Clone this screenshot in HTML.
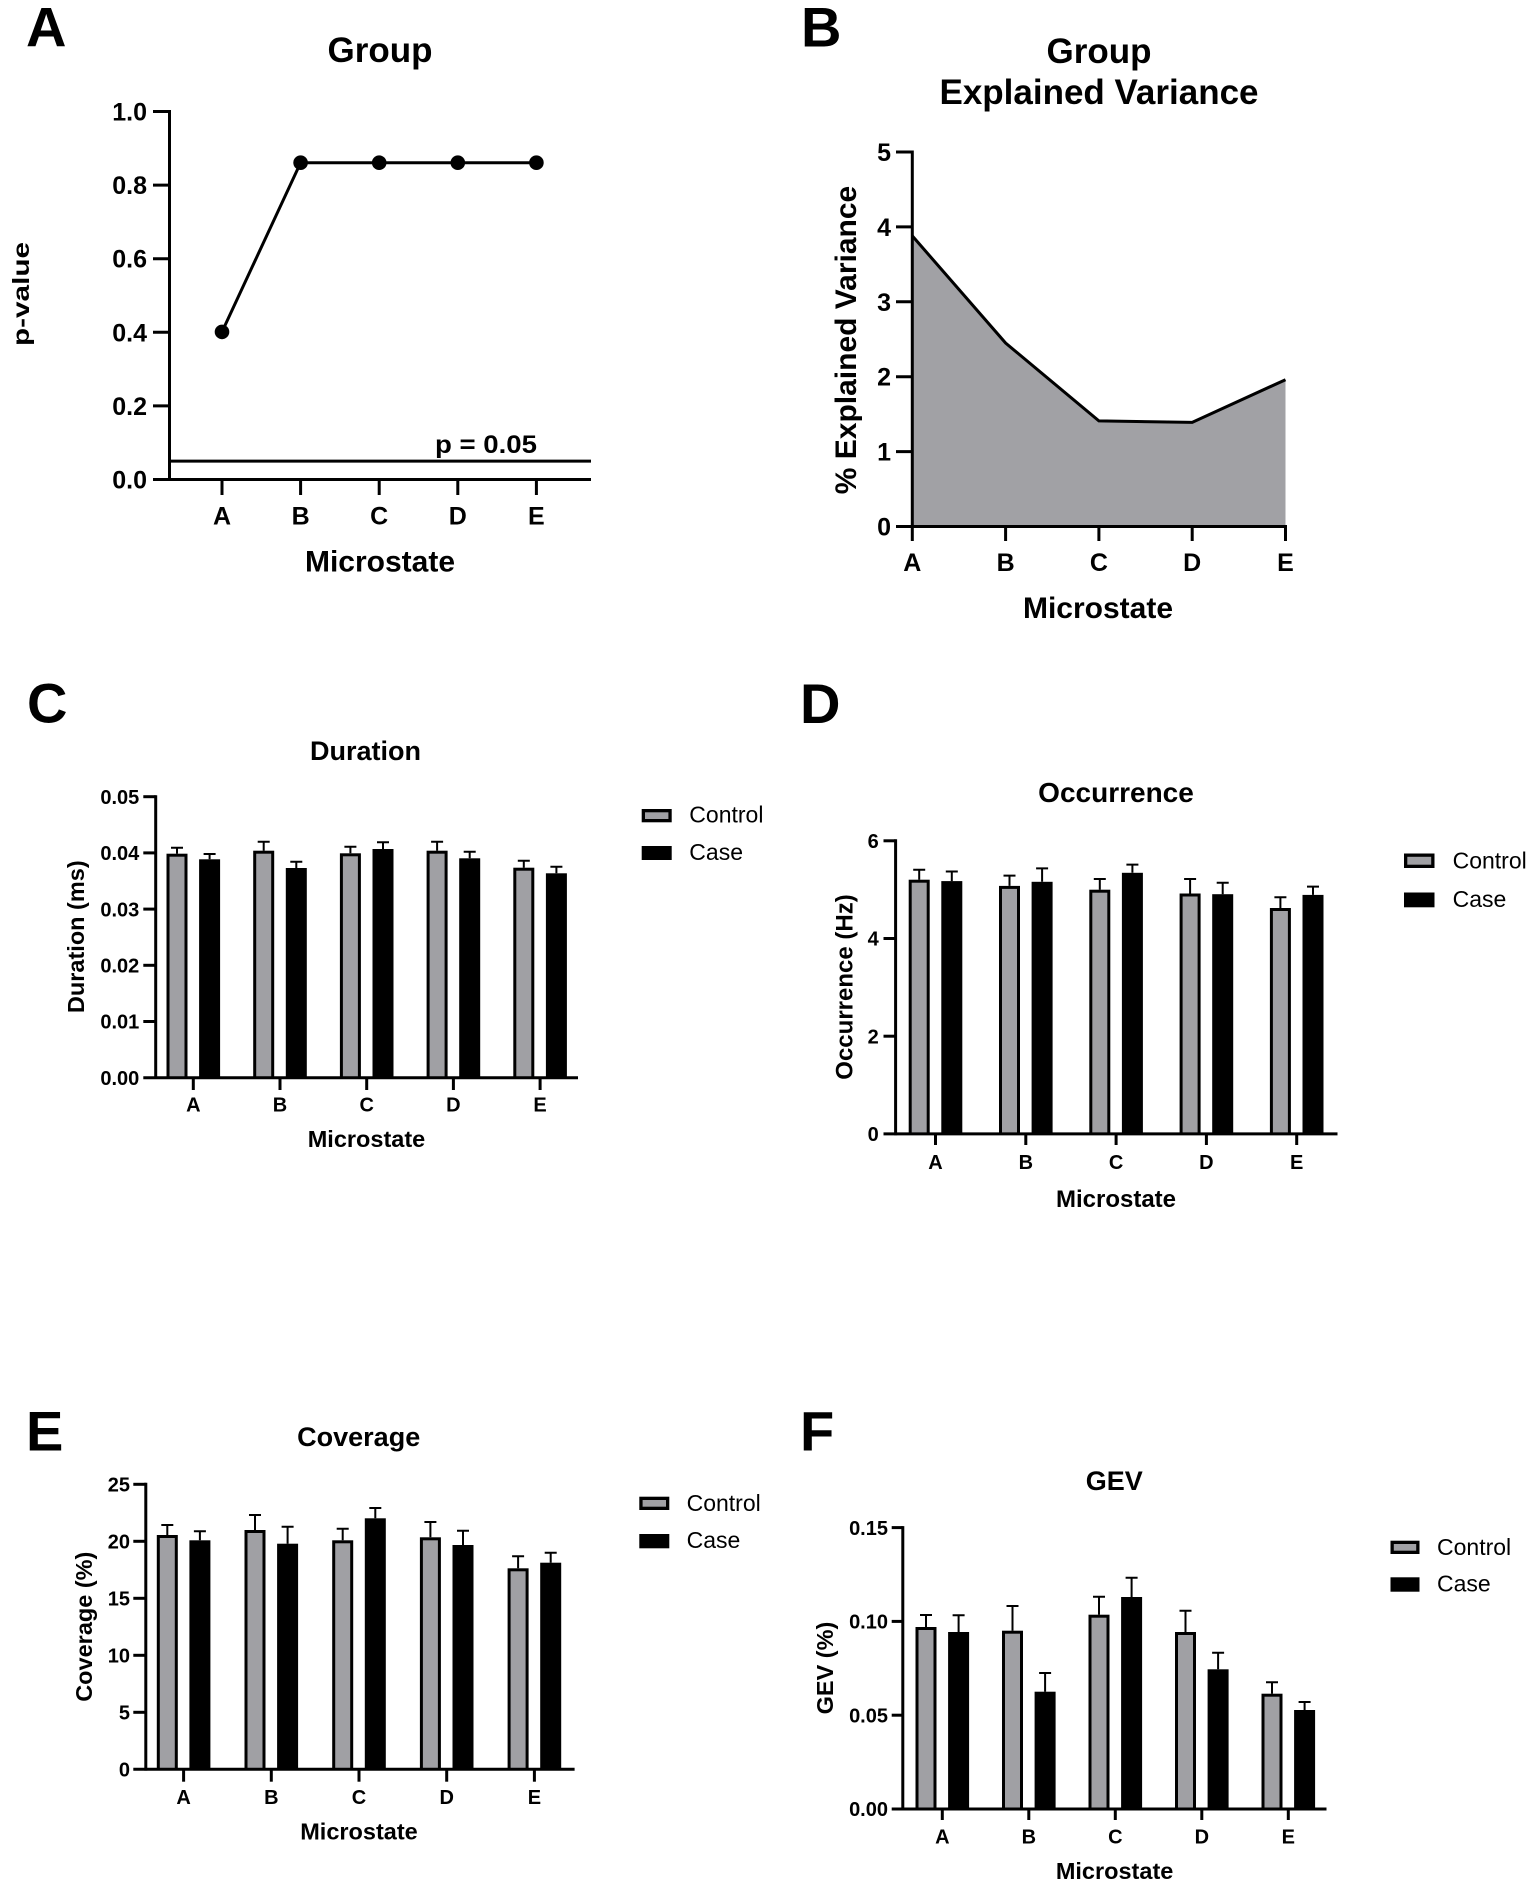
<!DOCTYPE html>
<html><head><meta charset="utf-8"><style>
html,body{margin:0;padding:0;background:#fff;}
svg{display:block;}
text{font-family:"Liberation Sans",Arial,sans-serif;fill:#000;}
.b{font-weight:bold;}
.L{font-size:56px;font-weight:bold;}
.t1{font-size:35px;font-weight:bold;}
.k1{font-size:25px;font-weight:bold;}
.a1{font-size:30px;font-weight:bold;}
.t2{font-size:27px;font-weight:bold;}
.k2{font-size:20px;font-weight:bold;}
.a2{font-size:23.5px;font-weight:bold;}
.lg{font-size:23px;}
</style></head><body>
<svg width="1535" height="1884" viewBox="0 0 1535 1884" xmlns="http://www.w3.org/2000/svg">
<rect width="1535" height="1884" fill="#fff"/>

<!-- ========== Panel A ========== -->
<text class="L" x="26" y="46.5">A</text>
<text class="t1" x="380" y="62" text-anchor="middle">Group</text>
<g stroke="#000" stroke-width="3" fill="none">
<line x1="169.5" y1="110" x2="169.5" y2="481"/>
<line x1="153" y1="479.5" x2="591" y2="479.5"/>
<line x1="153" y1="111.5" x2="169.5" y2="111.5"/>
<line x1="153" y1="185.1" x2="169.5" y2="185.1"/>
<line x1="153" y1="258.7" x2="169.5" y2="258.7"/>
<line x1="153" y1="332.3" x2="169.5" y2="332.3"/>
<line x1="153" y1="405.9" x2="169.5" y2="405.9"/>
<line x1="222" y1="479.5" x2="222" y2="495"/>
<line x1="300.6" y1="479.5" x2="300.6" y2="495"/>
<line x1="379.2" y1="479.5" x2="379.2" y2="495"/>
<line x1="457.8" y1="479.5" x2="457.8" y2="495"/>
<line x1="536.4" y1="479.5" x2="536.4" y2="495"/>
<line x1="169.5" y1="461.1" x2="591" y2="461.1"/>
<polyline points="222,331.9 300.6,162.7 379.2,162.7 457.8,162.7 536.4,162.7"/>
</g>
<g fill="#000">
<circle cx="222" cy="331.9" r="7.3"/>
<circle cx="300.6" cy="162.7" r="7.3"/>
<circle cx="379.2" cy="162.7" r="7.3"/>
<circle cx="457.8" cy="162.7" r="7.3"/>
<circle cx="536.4" cy="162.7" r="7.3"/>
</g>
<text class="k1" x="147" y="120.5" text-anchor="end">1.0</text>
<text class="k1" x="147" y="194.1" text-anchor="end">0.8</text>
<text class="k1" x="147" y="267.7" text-anchor="end">0.6</text>
<text class="k1" x="147" y="341.3" text-anchor="end">0.4</text>
<text class="k1" x="147" y="414.9" text-anchor="end">0.2</text>
<text class="k1" x="147" y="488.5" text-anchor="end">0.0</text>
<text class="k1" x="222" y="524.5" text-anchor="middle">A</text>
<text class="k1" x="300.6" y="524.5" text-anchor="middle">B</text>
<text class="k1" x="379.2" y="524.5" text-anchor="middle">C</text>
<text class="k1" x="457.8" y="524.5" text-anchor="middle">D</text>
<text class="k1" x="536.4" y="524.5" text-anchor="middle">E</text>
<text class="k1" x="537" y="453" text-anchor="end" textLength="102" lengthAdjust="spacingAndGlyphs">p = 0.05</text>
<text class="a1" x="380" y="571.5" text-anchor="middle">Microstate</text>
<text class="b" style="font-size:23px" x="29" y="294" text-anchor="middle" transform="rotate(-90 29 294)" textLength="104" lengthAdjust="spacingAndGlyphs">p-value</text>

<!-- ========== Panel B ========== -->
<text class="L" x="801" y="46.5">B</text>
<text class="t1" x="1099" y="63" text-anchor="middle">Group</text>
<text class="t1" x="1099" y="104" text-anchor="middle">Explained Variance</text>
<path d="M912.3,526.5 L912.3,235.9 L1005.6,343 L1098.9,420.9 L1192.2,422.4 L1285.5,379.7 L1285.5,526.5 Z" fill="#a1a1a5"/>
<g stroke="#000" stroke-width="3" fill="none">
<polyline points="912.3,235.9 1005.6,343 1098.9,420.9 1192.2,422.4 1285.5,379.7"/>
<line x1="912.3" y1="150.5" x2="912.3" y2="528"/>
<line x1="896" y1="526.5" x2="1287" y2="526.5"/>
<line x1="896" y1="152" x2="912.3" y2="152"/>
<line x1="896" y1="226.9" x2="912.3" y2="226.9"/>
<line x1="896" y1="301.8" x2="912.3" y2="301.8"/>
<line x1="896" y1="376.7" x2="912.3" y2="376.7"/>
<line x1="896" y1="451.6" x2="912.3" y2="451.6"/>
<line x1="912.3" y1="526.5" x2="912.3" y2="541"/>
<line x1="1005.6" y1="526.5" x2="1005.6" y2="541"/>
<line x1="1098.9" y1="526.5" x2="1098.9" y2="541"/>
<line x1="1192.2" y1="526.5" x2="1192.2" y2="541"/>
<line x1="1285.5" y1="526.5" x2="1285.5" y2="541"/>
</g>
<text class="k1" x="891" y="161" text-anchor="end">5</text>
<text class="k1" x="891" y="235.9" text-anchor="end">4</text>
<text class="k1" x="891" y="310.8" text-anchor="end">3</text>
<text class="k1" x="891" y="385.7" text-anchor="end">2</text>
<text class="k1" x="891" y="460.6" text-anchor="end">1</text>
<text class="k1" x="891" y="535.5" text-anchor="end">0</text>
<text class="k1" x="912.3" y="571" text-anchor="middle">A</text>
<text class="k1" x="1005.6" y="571" text-anchor="middle">B</text>
<text class="k1" x="1098.9" y="571" text-anchor="middle">C</text>
<text class="k1" x="1192.2" y="571" text-anchor="middle">D</text>
<text class="k1" x="1285.5" y="571" text-anchor="middle">E</text>
<text class="a1" x="1098" y="618" text-anchor="middle">Microstate</text>
<text class="a1" x="856" y="340" text-anchor="middle" transform="rotate(-90 856 340)">% Explained Variance</text>

<!-- ========== Panel C ========== -->
<text class="L" x="27" y="722.5">C</text>
<text class="t2" x="365.5" y="760" text-anchor="middle">Duration</text>
<g fill="#000">
<rect x="166.5" y="853.7" width="21" height="224"/>
<rect x="199.1" y="859.3" width="21" height="218.4"/>
<rect x="253.2" y="850.7" width="21" height="227"/>
<rect x="285.8" y="868" width="21" height="209.7"/>
<rect x="339.9" y="853.3" width="21" height="224.4"/>
<rect x="372.5" y="849" width="21" height="228.7"/>
<rect x="426.6" y="850.7" width="21" height="227"/>
<rect x="459.2" y="858.3" width="21" height="219.4"/>
<rect x="513.3" y="867.7" width="21" height="210"/>
<rect x="545.9" y="873.3" width="21" height="204.4"/>
</g>
<g fill="#a0a0a4">
<rect x="169.5" y="856.7" width="15" height="221"/>
<rect x="256.2" y="853.7" width="15" height="224"/>
<rect x="342.9" y="856.3" width="15" height="221.4"/>
<rect x="429.6" y="853.7" width="15" height="224"/>
<rect x="516.3" y="870.7" width="15" height="207"/>
</g>
<g stroke="#000" stroke-width="2">
<path d="M177,853.7V847.7M171,847.7H183"/>
<path d="M209.6,859.3V854M203.6,854H215.6"/>
<path d="M263.7,850.7V841.7M257.7,841.7H269.7"/>
<path d="M296.3,868V861.7M290.3,861.7H302.3"/>
<path d="M350.4,853.3V846.7M344.4,846.7H356.4"/>
<path d="M383,849V842.3M377,842.3H389"/>
<path d="M437.1,850.7V841.7M431.1,841.7H443.1"/>
<path d="M469.7,858.3V851.7M463.7,851.7H475.7"/>
<path d="M523.8,867.7V860.7M517.8,860.7H529.8"/>
<path d="M556.4,873.3V866.7M550.4,866.7H562.4"/>
</g>
<g stroke="#000" stroke-width="3" fill="none">
<line x1="155.7" y1="795.2" x2="155.7" y2="1079"/>
<line x1="143.3" y1="1077.7" x2="578" y2="1077.7"/>
<line x1="143.3" y1="796.7" x2="155.7" y2="796.7"/>
<line x1="143.3" y1="852.9" x2="155.7" y2="852.9"/>
<line x1="143.3" y1="909.1" x2="155.7" y2="909.1"/>
<line x1="143.3" y1="965.3" x2="155.7" y2="965.3"/>
<line x1="143.3" y1="1021.5" x2="155.7" y2="1021.5"/>
<line x1="193.3" y1="1077.7" x2="193.3" y2="1090"/>
<line x1="280" y1="1077.7" x2="280" y2="1090"/>
<line x1="366.7" y1="1077.7" x2="366.7" y2="1090"/>
<line x1="453.4" y1="1077.7" x2="453.4" y2="1090"/>
<line x1="540.1" y1="1077.7" x2="540.1" y2="1090"/>
</g>
<text class="k2" x="139.3" y="803.9" text-anchor="end">0.05</text>
<text class="k2" x="139.3" y="860.1" text-anchor="end">0.04</text>
<text class="k2" x="139.3" y="916.3" text-anchor="end">0.03</text>
<text class="k2" x="139.3" y="972.5" text-anchor="end">0.02</text>
<text class="k2" x="139.3" y="1028.7" text-anchor="end">0.01</text>
<text class="k2" x="139.3" y="1084.9" text-anchor="end">0.00</text>
<text class="k2" x="193.3" y="1111.7" text-anchor="middle">A</text>
<text class="k2" x="280" y="1111.7" text-anchor="middle">B</text>
<text class="k2" x="366.7" y="1111.7" text-anchor="middle">C</text>
<text class="k2" x="453.4" y="1111.7" text-anchor="middle">D</text>
<text class="k2" x="540.1" y="1111.7" text-anchor="middle">E</text>
<text class="a2" x="366.5" y="1147" text-anchor="middle">Microstate</text>
<text class="a2" x="84" y="936.7" text-anchor="middle" transform="rotate(-90 84 936.7)">Duration (ms)</text>
<rect x="641.7" y="809" width="30" height="13.3" fill="#000"/>
<rect x="645" y="812.3" width="23.4" height="6.7" fill="#a0a0a4"/>
<rect x="641.7" y="846" width="30" height="14" fill="#000"/>
<text class="lg" x="689.3" y="822.7">Control</text>
<text class="lg" x="689.3" y="860">Case</text>

<!-- ========== Panel D ========== -->
<text class="L" x="800" y="723">D</text>
<text class="t2" style="font-size:28px" x="1116" y="802" text-anchor="middle">Occurrence</text>
<g fill="#000">
<rect x="908.7" y="879.7" width="21" height="254.2"/>
<rect x="941.3" y="881.1" width="21" height="252.8"/>
<rect x="999" y="885.9" width="21" height="248"/>
<rect x="1031.6" y="881.8" width="21" height="252.1"/>
<rect x="1089.3" y="889.7" width="21" height="244.2"/>
<rect x="1121.9" y="872.8" width="21" height="261.1"/>
<rect x="1179.6" y="893.5" width="21" height="240.4"/>
<rect x="1212.2" y="894.2" width="21" height="239.7"/>
<rect x="1269.9" y="908" width="21" height="225.9"/>
<rect x="1302.5" y="894.9" width="21" height="239"/>
</g>
<g fill="#a0a0a4">
<rect x="911.7" y="882.7" width="15" height="251.2"/>
<rect x="1002" y="888.9" width="15" height="245"/>
<rect x="1092.3" y="892.7" width="15" height="241.2"/>
<rect x="1182.6" y="896.5" width="15" height="237.4"/>
<rect x="1272.9" y="911" width="15" height="222.9"/>
</g>
<g stroke="#000" stroke-width="2">
<path d="M919.2,879.7V869.7M913.2,869.7H925.2"/>
<path d="M951.8,881.1V871.5M945.8,871.5H957.8"/>
<path d="M1009.5,885.9V875.6M1003.5,875.6H1015.5"/>
<path d="M1042.1,881.8V868.4M1036.1,868.4H1048.1"/>
<path d="M1099.8,889.7V879M1093.8,879H1105.8"/>
<path d="M1132.4,872.8V864.6M1126.4,864.6H1138.4"/>
<path d="M1190.1,893.5V879M1184.1,879H1196.1"/>
<path d="M1222.7,894.2V882.8M1216.7,882.8H1228.7"/>
<path d="M1280.4,908V897.3M1274.4,897.3H1286.4"/>
<path d="M1313,894.9V886.6M1307,886.6H1319"/>
</g>
<g stroke="#000" stroke-width="3" fill="none">
<line x1="895.6" y1="839.3" x2="895.6" y2="1135.2"/>
<line x1="883.5" y1="1133.9" x2="1337.5" y2="1133.9"/>
<line x1="883.5" y1="840.8" x2="895.6" y2="840.8"/>
<line x1="883.5" y1="938.5" x2="895.6" y2="938.5"/>
<line x1="883.5" y1="1036.2" x2="895.6" y2="1036.2"/>
<line x1="935.5" y1="1133.9" x2="935.5" y2="1145"/>
<line x1="1025.8" y1="1133.9" x2="1025.8" y2="1145"/>
<line x1="1116.1" y1="1133.9" x2="1116.1" y2="1145"/>
<line x1="1206.4" y1="1133.9" x2="1206.4" y2="1145"/>
<line x1="1296.7" y1="1133.9" x2="1296.7" y2="1145"/>
</g>
<text class="k2" x="878.7" y="848" text-anchor="end">6</text>
<text class="k2" x="878.7" y="945.7" text-anchor="end">4</text>
<text class="k2" x="878.7" y="1043.4" text-anchor="end">2</text>
<text class="k2" x="878.7" y="1141.1" text-anchor="end">0</text>
<text class="k2" x="935.5" y="1169" text-anchor="middle">A</text>
<text class="k2" x="1025.8" y="1169" text-anchor="middle">B</text>
<text class="k2" x="1116.1" y="1169" text-anchor="middle">C</text>
<text class="k2" x="1206.4" y="1169" text-anchor="middle">D</text>
<text class="k2" x="1296.7" y="1169" text-anchor="middle">E</text>
<text class="a2" style="font-size:24px" x="1116" y="1207" text-anchor="middle">Microstate</text>
<text class="a2" style="font-size:24px" x="852.5" y="987" text-anchor="middle" transform="rotate(-90 852.5 987)">Occurrence (Hz)</text>
<rect x="1404" y="853.5" width="30.5" height="14.5" fill="#000"/>
<rect x="1407.3" y="856.8" width="23.9" height="7.9" fill="#a0a0a4"/>
<rect x="1404" y="892.5" width="30.5" height="14.8" fill="#000"/>
<text class="lg" x="1452.6" y="868.7">Control</text>
<text class="lg" x="1452.6" y="907">Case</text>

<!-- ========== Panel E ========== -->
<text class="L" x="26" y="1450.5">E</text>
<text class="t2" x="358.7" y="1446" text-anchor="middle">Coverage</text>
<g fill="#000">
<rect x="156.8" y="1535" width="21" height="234.3"/>
<rect x="189.4" y="1540.3" width="21" height="229"/>
<rect x="244.5" y="1530" width="21" height="239.3"/>
<rect x="277.1" y="1543.7" width="21" height="225.6"/>
<rect x="332.2" y="1540.3" width="21" height="229"/>
<rect x="364.8" y="1518.3" width="21" height="251"/>
<rect x="419.9" y="1537.3" width="21" height="232"/>
<rect x="452.5" y="1545" width="21" height="224.3"/>
<rect x="507.6" y="1568.3" width="21" height="201"/>
<rect x="540.2" y="1562.7" width="21" height="206.6"/>
</g>
<g fill="#a0a0a4">
<rect x="159.8" y="1538" width="15" height="231.3"/>
<rect x="247.5" y="1533" width="15" height="236.3"/>
<rect x="335.2" y="1543.3" width="15" height="226"/>
<rect x="422.9" y="1540.3" width="15" height="229"/>
<rect x="510.6" y="1571.3" width="15" height="198"/>
</g>
<g stroke="#000" stroke-width="2">
<path d="M167.3,1535V1525M161.3,1525H173.3"/>
<path d="M199.9,1540.3V1531.3M193.9,1531.3H205.9"/>
<path d="M255,1530V1515M249,1515H261"/>
<path d="M287.6,1543.7V1526.7M281.6,1526.7H293.6"/>
<path d="M342.7,1540.3V1528.7M336.7,1528.7H348.7"/>
<path d="M375.3,1518.3V1508M369.3,1508H381.3"/>
<path d="M430.4,1537.3V1522M424.4,1522H436.4"/>
<path d="M463,1545V1530.7M457,1530.7H469"/>
<path d="M518.1,1568.3V1556.3M512.1,1556.3H524.1"/>
<path d="M550.7,1562.7V1552.7M544.7,1552.7H556.7"/>
</g>
<g stroke="#000" stroke-width="3" fill="none">
<line x1="145.8" y1="1482.8" x2="145.8" y2="1770.6"/>
<line x1="133.3" y1="1769.3" x2="574.6" y2="1769.3"/>
<line x1="133.3" y1="1484.3" x2="145.8" y2="1484.3"/>
<line x1="133.3" y1="1541.3" x2="145.8" y2="1541.3"/>
<line x1="133.3" y1="1598.3" x2="145.8" y2="1598.3"/>
<line x1="133.3" y1="1655.3" x2="145.8" y2="1655.3"/>
<line x1="133.3" y1="1712.3" x2="145.8" y2="1712.3"/>
<line x1="183.6" y1="1769.3" x2="183.6" y2="1781.7"/>
<line x1="271.3" y1="1769.3" x2="271.3" y2="1781.7"/>
<line x1="359" y1="1769.3" x2="359" y2="1781.7"/>
<line x1="446.7" y1="1769.3" x2="446.7" y2="1781.7"/>
<line x1="534.4" y1="1769.3" x2="534.4" y2="1781.7"/>
</g>
<text class="k2" x="130" y="1491.5" text-anchor="end">25</text>
<text class="k2" x="130" y="1548.5" text-anchor="end">20</text>
<text class="k2" x="130" y="1605.5" text-anchor="end">15</text>
<text class="k2" x="130" y="1662.5" text-anchor="end">10</text>
<text class="k2" x="130" y="1719.5" text-anchor="end">5</text>
<text class="k2" x="130" y="1776.5" text-anchor="end">0</text>
<text class="k2" x="183.6" y="1804" text-anchor="middle">A</text>
<text class="k2" x="271.3" y="1804" text-anchor="middle">B</text>
<text class="k2" x="359" y="1804" text-anchor="middle">C</text>
<text class="k2" x="446.7" y="1804" text-anchor="middle">D</text>
<text class="k2" x="534.4" y="1804" text-anchor="middle">E</text>
<text class="a2" x="359" y="1839.3" text-anchor="middle">Microstate</text>
<text class="a2" x="91.8" y="1626.7" text-anchor="middle" transform="rotate(-90 91.8 1626.7)">Coverage (%)</text>
<rect x="639.3" y="1496.7" width="30" height="13.3" fill="#000"/>
<rect x="642.6" y="1500" width="23.4" height="6.7" fill="#a0a0a4"/>
<rect x="639.3" y="1534" width="30" height="14.3" fill="#000"/>
<text class="lg" x="686.6" y="1511">Control</text>
<text class="lg" x="686.6" y="1548">Case</text>

<!-- ========== Panel F ========== -->
<text class="L" x="800" y="1450.5">F</text>
<text class="t2" x="1114.3" y="1490" text-anchor="middle">GEV</text>
<g fill="#000">
<rect x="915.5" y="1627" width="21" height="182"/>
<rect x="948.1" y="1632" width="21" height="177"/>
<rect x="1002" y="1630.7" width="21" height="178.3"/>
<rect x="1034.6" y="1691.7" width="21" height="117.3"/>
<rect x="1088.5" y="1614.7" width="21" height="194.3"/>
<rect x="1121.1" y="1597" width="21" height="212"/>
<rect x="1175" y="1632" width="21" height="177"/>
<rect x="1207.6" y="1669.3" width="21" height="139.7"/>
<rect x="1261.5" y="1693.7" width="21" height="115.3"/>
<rect x="1294.1" y="1710" width="21" height="99"/>
</g>
<g fill="#a0a0a4">
<rect x="918.5" y="1630" width="15" height="179"/>
<rect x="1005" y="1633.7" width="15" height="175.3"/>
<rect x="1091.5" y="1617.7" width="15" height="191.3"/>
<rect x="1178" y="1635" width="15" height="174"/>
<rect x="1264.5" y="1696.7" width="15" height="112.3"/>
</g>
<g stroke="#000" stroke-width="2">
<path d="M926,1627V1615M920,1615H932"/>
<path d="M958.6,1632V1615.3M952.6,1615.3H964.6"/>
<path d="M1012.5,1630.7V1606M1006.5,1606H1018.5"/>
<path d="M1045.1,1691.7V1673M1039.1,1673H1051.1"/>
<path d="M1099,1614.7V1596.7M1093,1596.7H1105"/>
<path d="M1131.6,1597V1577.7M1125.6,1577.7H1137.6"/>
<path d="M1185.5,1632V1610.7M1179.5,1610.7H1191.5"/>
<path d="M1218.1,1669.3V1652.7M1212.1,1652.7H1224.1"/>
<path d="M1272,1693.7V1682.3M1266,1682.3H1278"/>
<path d="M1304.6,1710V1702M1298.6,1702H1310.6"/>
</g>
<g stroke="#000" stroke-width="3" fill="none">
<line x1="902.8" y1="1526.1" x2="902.8" y2="1810.3"/>
<line x1="891.7" y1="1809" x2="1326.5" y2="1809"/>
<line x1="891.7" y1="1527.6" x2="902.8" y2="1527.6"/>
<line x1="891.7" y1="1621.4" x2="902.8" y2="1621.4"/>
<line x1="891.7" y1="1715.2" x2="902.8" y2="1715.2"/>
<line x1="942.3" y1="1809" x2="942.3" y2="1820"/>
<line x1="1028.8" y1="1809" x2="1028.8" y2="1820"/>
<line x1="1115.3" y1="1809" x2="1115.3" y2="1820"/>
<line x1="1201.8" y1="1809" x2="1201.8" y2="1820"/>
<line x1="1288.3" y1="1809" x2="1288.3" y2="1820"/>
</g>
<text class="k2" x="888" y="1534.8" text-anchor="end">0.15</text>
<text class="k2" x="888" y="1628.6" text-anchor="end">0.10</text>
<text class="k2" x="888" y="1722.4" text-anchor="end">0.05</text>
<text class="k2" x="888" y="1816.2" text-anchor="end">0.00</text>
<text class="k2" x="942.3" y="1843.3" text-anchor="middle">A</text>
<text class="k2" x="1028.8" y="1843.3" text-anchor="middle">B</text>
<text class="k2" x="1115.3" y="1843.3" text-anchor="middle">C</text>
<text class="k2" x="1201.8" y="1843.3" text-anchor="middle">D</text>
<text class="k2" x="1288.3" y="1843.3" text-anchor="middle">E</text>
<text class="a2" x="1114.6" y="1879" text-anchor="middle">Microstate</text>
<text class="a2" x="832.8" y="1668" text-anchor="middle" transform="rotate(-90 832.8 1668)">GEV (%)</text>
<rect x="1390.5" y="1540.7" width="29" height="13.3" fill="#000"/>
<rect x="1393.8" y="1544" width="22.4" height="6.7" fill="#a0a0a4"/>
<rect x="1390.5" y="1577.3" width="29" height="14.4" fill="#000"/>
<text class="lg" x="1437" y="1555">Control</text>
<text class="lg" x="1437" y="1591.7">Case</text>
</svg>
</body></html>
